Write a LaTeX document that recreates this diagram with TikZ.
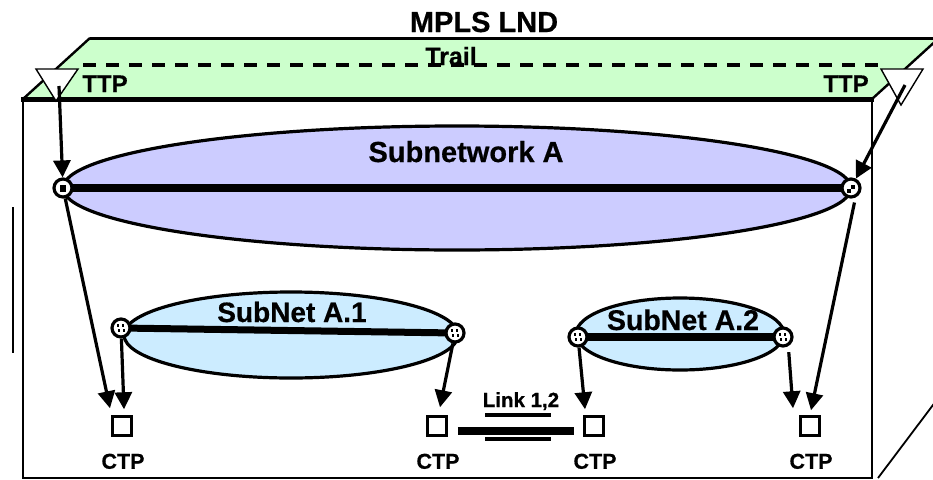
\documentclass[tikz,border=0pt]{standalone}
\usepackage{fontspec}
\setmainfont{Liberation Sans}
\newfontfamily\heavysans[FakeBold=0.6]{Liberation Sans Bold}
\usetikzlibrary{arrows.meta,calc}
\pgfdeclarelayer{back}
\pgfsetlayers{back,main}
\definecolor{trailgreen}{RGB}{204,255,204}
\definecolor{netviolet}{RGB}{204,204,255}
\definecolor{subblue}{RGB}{204,236,255}
\tikzset{
  port/.style={circle,draw,fill=white,line width=3.2pt,minimum size=18pt,inner sep=0pt},
  ctpbox/.style={rectangle,draw,line width=3pt,minimum size=18.5pt,inner sep=0pt},
  conn/.style={line width=3.2pt,-{Triangle[length=17pt,width=17pt]}},
  txt/.style={anchor=base,inner sep=0pt,font=\heavysans\fontsize{#1}{#1}\selectfont},
  netfill/.style={draw,line width=3.2pt,fill=#1}
}
\begin{document}
\begin{tikzpicture}[x=1pt,y=-1pt]
\useasboundingbox (0,0) rectangle (933,479);

% connection points of the subnetworks
\node[port] (nAL) at (63,188) {};
\node[port] (nAR) at (851,188) {};
\node[port] (n1L) at (121,328) {};
\node[port] (n1R) at (455,333) {};
\node[port] (n2L) at (578,337) {};
\node[port] (n2R) at (783,337) {};

% inner marks of the connection points
\fill ($(nAL)+(-3.5,-3)$) rectangle ($(nAL)+(3,3.5)$);
\fill ($(nAR)+(-4,1)$) rectangle ($(nAR)+(0,5)$);
\fill ($(nAR)+(0,-3)$) rectangle ($(nAR)+(4,1)$);
\foreach \p in {n1L,n1R,n2L,n2R}{
  \draw[line width=1.4pt] ($(\p)+(-3,-4)$) -- ($(\p)+(-3,-1)$);
  \draw[line width=1.4pt] ($(\p)+(2,-4)$) -- ($(\p)+(2,-1)$);
  \draw[line width=1.4pt] ($(\p)+(-2,1)$) -- ($(\p)+(-2,4)$);
  \draw[line width=1.4pt] ($(\p)+(3,1)$) -- ($(\p)+(3,4)$);
}

% connection termination points
\node[ctpbox] (c1) at (122,426) {};
\node[ctpbox] (c2) at (437,426) {};
\node[ctpbox] (c3) at (594,426) {};
\node[ctpbox] (c4) at (810,426) {};
\foreach \c in {c1,c2,c3,c4}
  \node[txt=21.5] (\c-name) at ($(\c.south)+(1,32)$) {CTP};

% texts
\node[txt=29] (title) at (484,32) {MPLS LND};
\node[txt=25] (trail) at (451,65) {Trail};
\node[txt=24] (ttpLname) at (105,92) {TTP};
\node[txt=24] (ttpRname) at (846,92) {TTP};
\node[txt=29] (netA) at (466,162) {Subnetwork A};
\node[txt=28] (net1) at (292,322) {SubNet A.1};
\node[txt=28.5] (net2) at (683,330) {SubNet A.2};
\node[txt=20.5] (link) at (521,407) {Link 1,2};

\begin{pgfonlayer}{back}
  % layer network box with its trail plane on top
  \fill[trailgreen] (23,99) -- (90,38) -- (939,38) -- (872,99) -- cycle;
  \draw[line width=3pt] (90,38) -- (939,38);
  \draw[line width=2.4pt] (23,99) -- (90,38);
  \draw[line width=2.4pt] (872,99) -- (939,38);
  \draw[line width=2.2pt] (23,99) -- (23,478) -- (872,478) -- (872,99);
  \draw[line width=5pt] (21,99) -- (874,99);
  \draw[line width=1.8pt] (878,478) -- (939,397);
  \draw[line width=2pt] (12.5,207) -- (12.5,353);
  % trail
  \draw[line width=3.4pt,dash pattern=on 13pt off 10pt] (83,65) -- (886,65);
  % trail termination points
  \filldraw[fill=white,line width=1.4pt] (36,69) -- (78,69) -- (56,101) -- cycle;
  \filldraw[fill=white,line width=1.4pt] (881,69) -- (923,69) -- (901,105) -- cycle;
  % subnetworks
  \path[netfill=netviolet] (457,188) ellipse [x radius=394, y radius=62];
  \draw[line width=8pt] (nAL.center) -- (nAR.center);
  \path[netfill=subblue] (291,335) ellipse [x radius=167, y radius=43];
  \draw[line width=7pt] (n1L.center) -- (n1R.center);
  \path[netfill=subblue] (680,334) ellipse [x radius=104, y radius=36];
  \draw[line width=8pt] (n2L.center) -- (n2R.center);
  % link between the subnetworks
  \draw[line width=8pt] ($(c2.east)+(10,5)$) -- ($(c3.west)+(-9,5)$);
  \draw[line width=4pt] (485,415) -- (551,415);
  \draw[line width=4.5pt] (485,439) -- (551,439);
\end{pgfonlayer}

% adaptation arrows
\coordinate (ttpL) at (59,86);
\coordinate (ttpR) at (905,85);
\draw[conn] (ttpL) -- (nAL);
\draw[conn] (ttpR) -- (nAR);
\draw[conn] (nAL) -- ($(c1.north)+(-12,-7)$);
\draw[conn] (n1L) -- ($(c1.north)+(2,-6)$);
\draw[conn] (n1R) -- ($(c2.north)+(3,-8)$);
\draw[conn,shorten <=5pt] (nAR.-65) -- ($(c4.north)+(1,-5)$);
\draw[conn] (n2L) -- ($(c3.north)+(-9,-6)$);
\draw[conn,shorten <=6pt] (n2R.-60) -- ($(c4.north)+(-17,-7)$);
\end{tikzpicture}
\end{document}
